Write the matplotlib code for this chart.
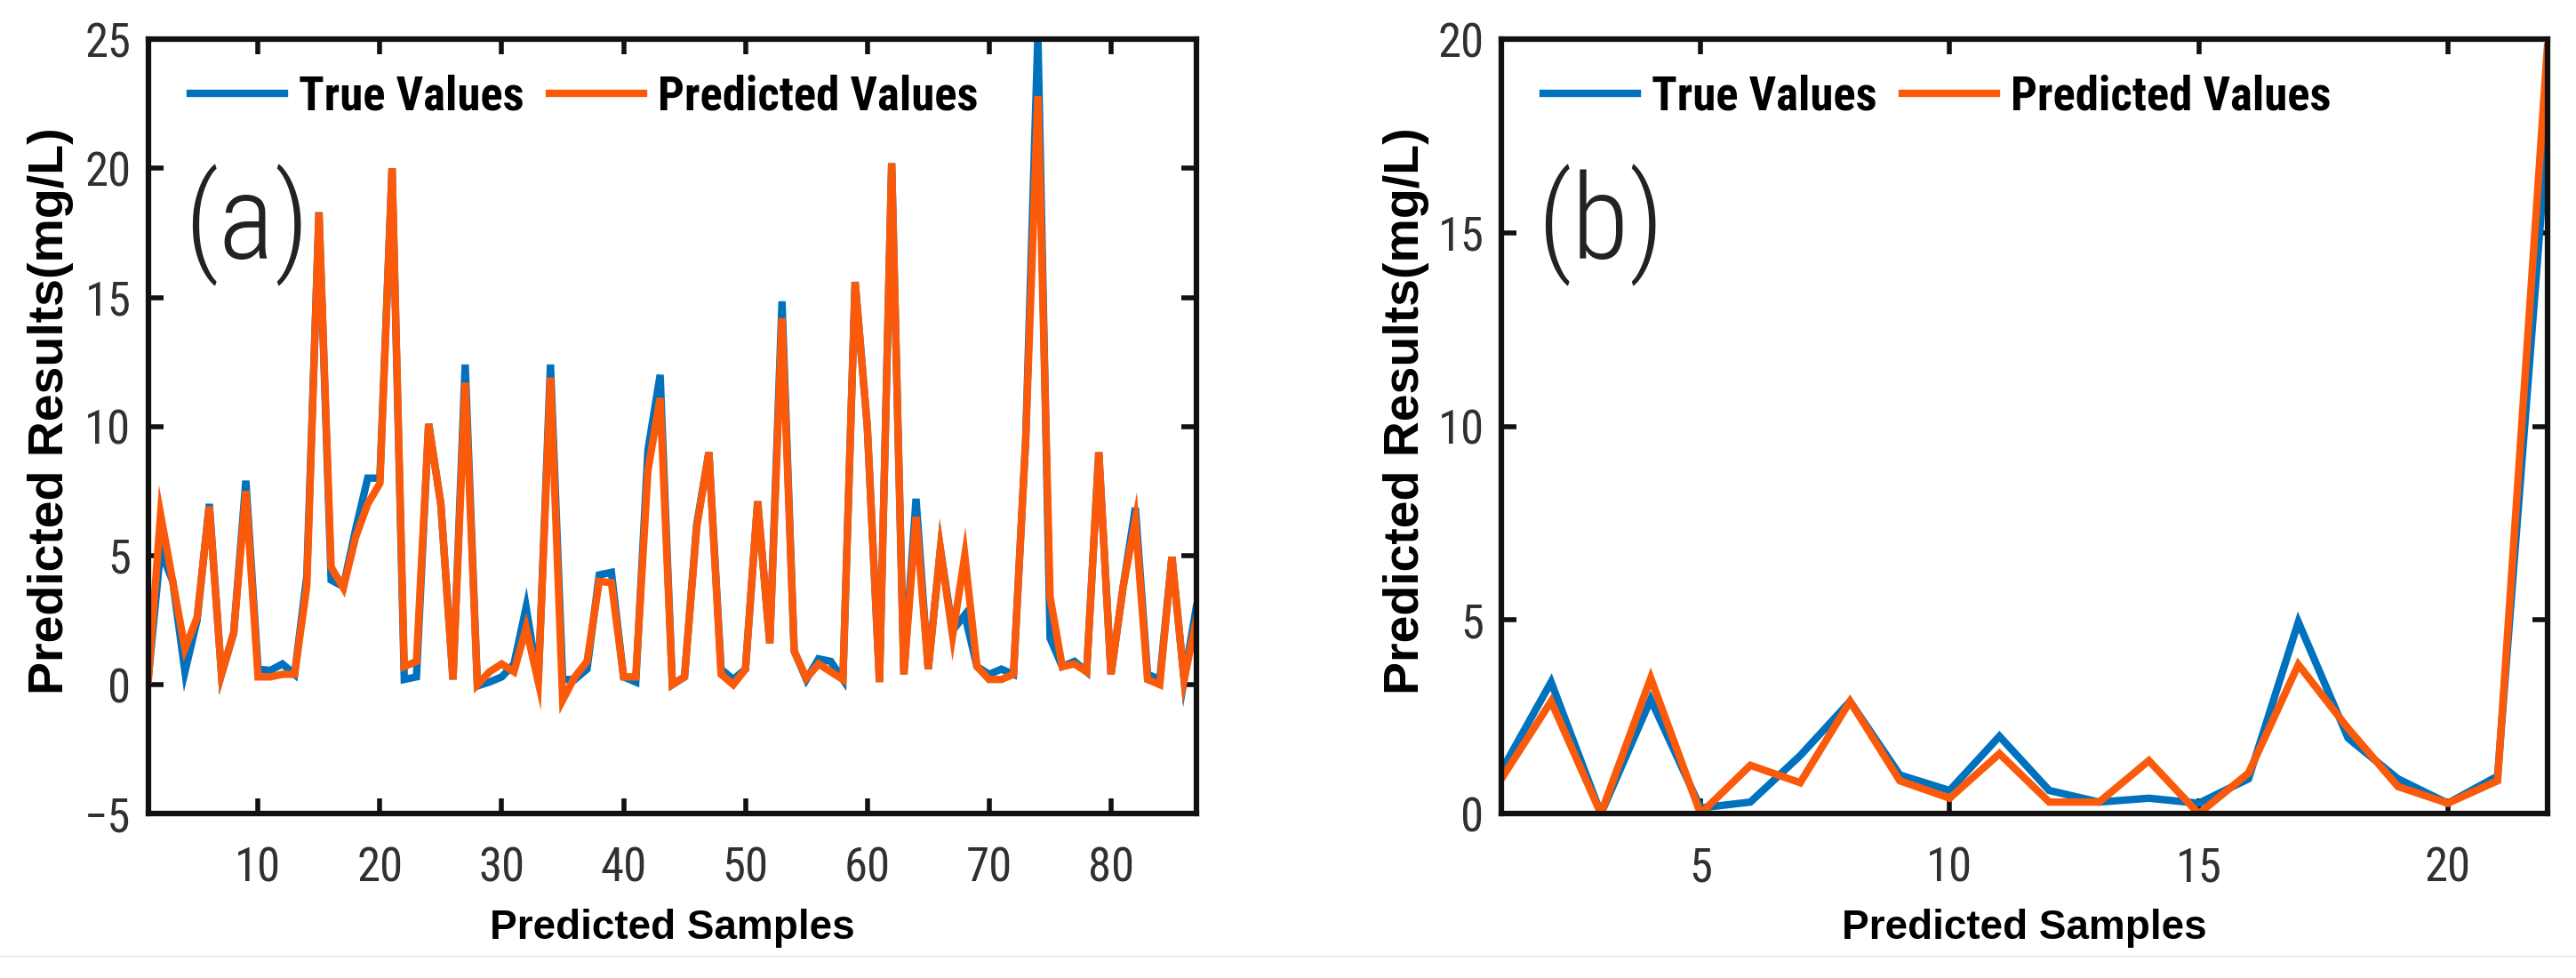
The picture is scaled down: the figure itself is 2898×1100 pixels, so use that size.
import numpy as np
import matplotlib
matplotlib.use("Agg")
import matplotlib.pyplot as plt
from matplotlib.lines import Line2D

# panel (a): 87 test samples
true_a = [0.3, 5.2, 4.0, 0.5, 2.5, 7.0, 0.4, 2.0, 7.9, 0.6,
          0.55, 0.8, 0.4, 4.2, 18.3, 4.05, 3.8, 6.0, 8.0, 8.0,
          20.0, 0.2, 0.3, 10.1, 7.0, 0.2, 12.4, -0.05, 0.1, 0.3,
          0.8, 3.0, 0.1, 12.4, 0.2, 0.2, 0.6, 4.25, 4.35, 0.3,
          0.1, 9.1, 12.0, 0.0, 0.3, 6.2, 9.0, 0.6, 0.2, 0.6,
          7.1, 1.6, 14.85, 1.3, 0.2, 1.0, 0.9, 0.2, 15.6, 10.0,
          0.1, 20.2, 0.4, 7.2, 0.6, 5.25, 2.1, 2.7, 0.7, 0.4,
          0.6, 0.4, 9.5, 25.2, 1.8, 0.7, 0.9, 0.5, 9.0, 0.4,
          3.8, 6.85, 0.4, 0.2, 4.95, 0.2, 3.0]
pred_a = [0.2, 6.6, 4.0, 1.4, 2.6, 6.9, 0.4, 2.0, 7.5, 0.3,
          0.3, 0.4, 0.4, 3.8, 18.3, 4.55, 3.75, 5.7, 7.0, 7.8,
          20.0, 0.7, 0.9, 10.1, 7.0, 0.2, 11.7, 0.0, 0.5, 0.8,
          0.5, 2.2, 0.1, 11.9, -0.6, 0.3, 0.9, 4.0, 3.95, 0.3,
          0.3, 8.3, 11.1, 0.0, 0.3, 6.1, 9.0, 0.4, 0.0, 0.6,
          7.1, 1.6, 14.2, 1.3, 0.25, 0.8, 0.5, 0.2, 15.6, 10.0,
          0.1, 20.2, 0.4, 6.5, 0.6, 5.25, 1.9, 5.0, 0.7, 0.2,
          0.2, 0.4, 9.5, 22.8, 3.4, 0.7, 0.8, 0.5, 9.0, 0.4,
          3.8, 6.35, 0.2, 0.0, 4.95, 0.2, 2.5]

# panel (b): 22 test samples
true_b = [1.1, 3.4, 0.0, 2.95, 0.15, 0.3, 1.5, 2.9, 1.0, 0.6, 2.0,
          0.6, 0.3, 0.4, 0.27, 0.9, 4.95, 1.95, 0.9, 0.27, 0.97, 17.6]
pred_b = [0.9, 2.9, 0.0, 3.5, 0.0, 1.25, 0.8, 2.9, 0.85, 0.4, 1.55,
          0.3, 0.3, 1.37, 0.0, 1.05, 3.85, 2.2, 0.7, 0.27, 0.85, 19.8]

xticks_a = [10, 20, 30, 40, 50, 60, 70, 80]
yticks_a = [-5, 0, 5, 10, 15, 20, 25]
xticks_b = [5, 10, 15, 20]
yticks_b = [0, 5, 10, 15, 20]

BLUE = "#0072BD"
ORANGE = "#FA5A0A"
NARROW = ["Roboto Condensed", "Liberation Sans Narrow", "Liberation Sans", "DejaVu Sans"]
WIDE = ["Liberation Sans", "DejaVu Sans"]


def style_axes(ax, xlim, ylim, xticks, yticks):
    ax.set_xlim(*xlim)
    ax.set_ylim(*ylim)
    ax.set_xticks(xticks)
    ax.set_yticks(yticks)
    for s in ax.spines.values():
        s.set_linewidth(4.5)
        s.set_color("#111111")
    ax.tick_params(direction="in", length=12, width=4, top=True, right=True,
                   labelsize=38, labelcolor="#303030", colors="#111111")
    ax.tick_params(axis="x", pad=26)
    ax.tick_params(axis="y", pad=14)
    for lab in ax.get_xticklabels() + ax.get_yticklabels():
        lab.set_family(NARROW)


def draw_panel(ax, true_vals, pred_vals, tag, xlim, ylim, xticks, yticks, ylab_x):
    x = np.arange(1, len(true_vals) + 1)
    ax.plot(x, true_vals, color=BLUE, lw=6, label="True Values", solid_joinstyle="miter")
    ax.plot(x, pred_vals, color=ORANGE, lw=6, label="Predicted Values", solid_joinstyle="miter")
    style_axes(ax, xlim, ylim, xticks, yticks)
    ax.set_xlabel("Predicted Samples", fontsize=33, fontweight="bold", family=WIDE, va="center")
    ax.set_ylabel("Predicted Results(mg/L)", fontsize=40, fontweight="bold", family=WIDE, va="center")
    ax.xaxis.set_label_coords(0.5, -0.148)
    ax.yaxis.set_label_coords(ylab_x, 0.52)
    leg = ax.legend(ncol=2, loc="upper left", bbox_to_anchor=(0.0, 1.01), frameon=False,
                    handlelength=2.0, handletextpad=0.3, columnspacing=0.55,
                    prop={"family": NARROW, "weight": "bold", "size": 38})
    for h in leg.get_lines():
        h.set_linewidth(6)
    ax.text(0.034, 0.76, tag, transform=ax.transAxes, fontsize=96, family=NARROW,
            fontweight="light", color="#222222", va="center", ha="left")


fig = plt.figure(figsize=(28.98, 11.0), dpi=100)
ax1 = fig.add_axes([0.0576, 0.168, 0.4068, 0.7918])
ax2 = fig.add_axes([0.5828, 0.168, 0.4061, 0.7918])

draw_panel(ax1, true_a, pred_a, "(a)", (1, 87), (-5, 25), xticks_a, yticks_a, -0.093)
draw_panel(ax2, true_b, pred_b, "(b)", (1, 22), (0, 20), xticks_b, yticks_b, -0.091)

# faint border line near the bottom of the original screenshot
fig.add_artist(Line2D([0, 1], [0.0227, 0.0227], transform=fig.transFigure,
                      color="#e4e4e4", lw=1))

fig.savefig("out.png", dpi=100)
